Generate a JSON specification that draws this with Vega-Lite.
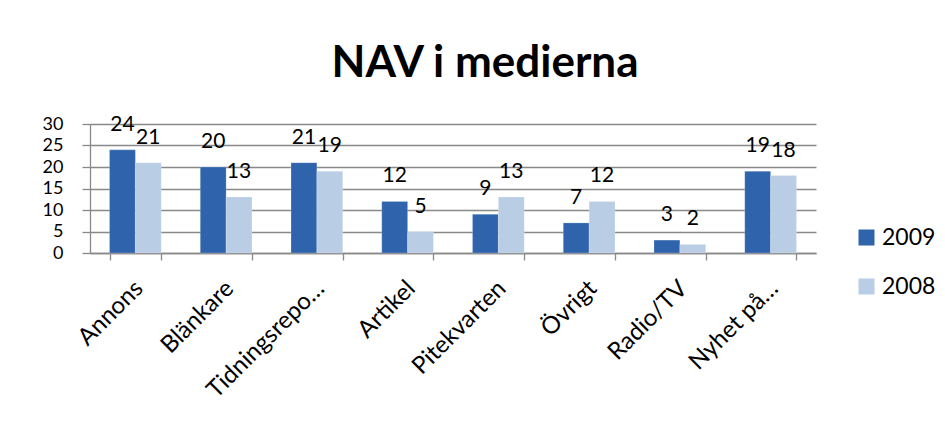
{
  "$schema": "https://vega.github.io/schema/vega-lite/v6.json",
  "width": 726,
  "height": 129,
  "autosize": {"type": "none"},
  "padding": {"left": 90, "top": 124, "right": 129, "bottom": 171},
  "background": "white",
  "title": {
    "text": "NAV i medierna",
    "font": "Lato",
    "fontSize": 44,
    "fontWeight": "bold",
    "color": "#000000",
    "anchor": "middle",
    "baseline": "alphabetic",
    "dx": 32,
    "offset": -7
  },
  "data": {
    "values": [
      {"kategori": "Annons", "ar": "2009", "antal": 24},
      {"kategori": "Annons", "ar": "2008", "antal": 21},
      {"kategori": "Blänkare", "ar": "2009", "antal": 20},
      {"kategori": "Blänkare", "ar": "2008", "antal": 13},
      {"kategori": "Tidningsrepo…", "ar": "2009", "antal": 21},
      {"kategori": "Tidningsrepo…", "ar": "2008", "antal": 19},
      {"kategori": "Artikel", "ar": "2009", "antal": 12},
      {"kategori": "Artikel", "ar": "2008", "antal": 5},
      {"kategori": "Pitekvarten", "ar": "2009", "antal": 9},
      {"kategori": "Pitekvarten", "ar": "2008", "antal": 13},
      {"kategori": "Övrigt", "ar": "2009", "antal": 7},
      {"kategori": "Övrigt", "ar": "2008", "antal": 12},
      {"kategori": "Radio/TV", "ar": "2009", "antal": 3},
      {"kategori": "Radio/TV", "ar": "2008", "antal": 2},
      {"kategori": "Nyhet på…", "ar": "2009", "antal": 19},
      {"kategori": "Nyhet på…", "ar": "2008", "antal": 18}
    ]
  },
  "encoding": {
    "x": {
      "field": "kategori",
      "type": "nominal",
      "sort": null,
      "title": null,
      "scale": {"paddingInner": 0.43, "paddingOuter": 0.215},
      "axis": {
        "labelAngle": -45,
        "labelAlign": "right",
        "labelBaseline": "top",
        "labelFont": "Lato",
        "labelFontSize": 24,
        "labelColor": "#000000",
        "labelPadding": 16,
        "labelOffset": -5,
        "domainColor": "#898989",
        "domainWidth": 1.3,
        "tickColor": "#898989",
        "tickWidth": 1.3,
        "tickSize": 7,
        "tickBand": "extent",
        "grid": false
      }
    },
    "xOffset": {"field": "ar", "type": "nominal", "sort": ["2009", "2008"]},
    "y": {
      "field": "antal",
      "type": "quantitative",
      "title": null,
      "scale": {"domain": [0, 30], "nice": false},
      "axis": {
        "values": [0, 5, 10, 15, 20, 25, 30],
        "labelFont": "Lato",
        "labelFontSize": 18,
        "labelColor": "#000000",
        "labelPadding": 19,
        "labelOverlap": false,
        "tickSize": 8,
        "tickColor": "#898989",
        "tickWidth": 1.3,
        "domainColor": "#898989",
        "domainWidth": 1.3,
        "gridColor": "#898989",
        "gridWidth": 1.3
      }
    }
  },
  "layer": [
    {
      "mark": {"type": "bar", "stroke": "#ffffff", "strokeWidth": 0.5, "strokeOpacity": 0.4},
      "encoding": {
        "color": {
          "field": "ar",
          "type": "nominal",
          "scale": {"domain": ["2009", "2008"], "range": ["#2F64AC", "#B9CDE5"]},
          "legend": {
            "title": null,
            "orient": "none",
            "legendX": 765,
            "legendY": 102,
            "padding": 0,
            "symbolType": "square",
            "symbolSize": 256,
            "symbolStrokeWidth": 0,
            "labelFont": "Lato",
            "labelFontSize": 23,
            "labelColor": "#000000",
            "labelOffset": 4,
            "rowPadding": 25
          }
        }
      }
    },
    {
      "mark": {"type": "text", "baseline": "alphabetic", "dy": -19, "font": "Lato", "fontSize": 21, "color": "#000000"},
      "encoding": {"text": {"field": "antal", "type": "quantitative"}}
    }
  ],
  "config": {"view": {"stroke": null}}
}
